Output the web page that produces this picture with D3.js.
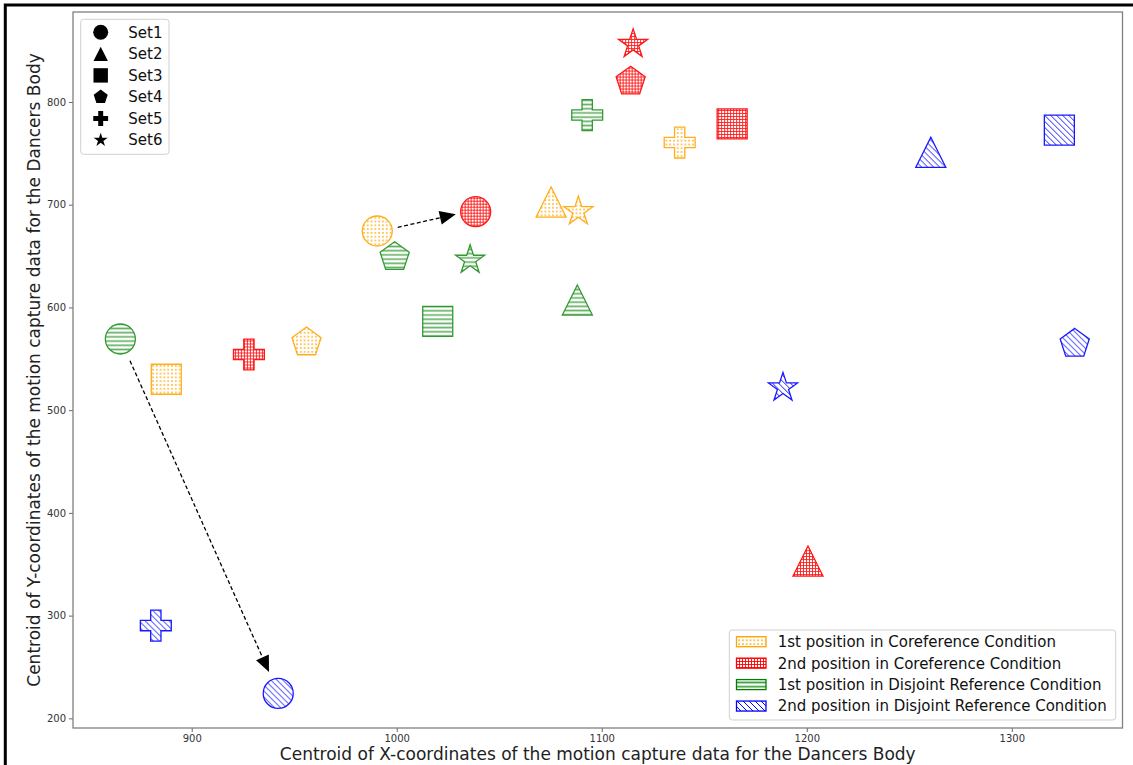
<!DOCTYPE html>
<html>
<head>
<meta charset="utf-8">
<script src="https://cdn.jsdelivr.net/npm/d3@7"></script>
<style>
  html, body { margin: 0; padding: 0; background: #fff; }
  svg { display: block; font-family: "DejaVu Sans", sans-serif; }
</style>
</head>
<body>
<svg id="chart" width="1133" height="765"></svg>
<script>
// ---- data ----
const setNames = ["Set1", "Set2", "Set3", "Set4", "Set5", "Set6"];
const conditions = [
  "1st position in Coreference Condition",
  "2nd position in Coreference Condition",
  "1st position in Disjoint Reference Condition",
  "2nd position in Disjoint Reference Condition"
];
// centroids per set (Set1..Set6) for each condition
const coref1X = [990.5, 1075.3, 887.6, 956.0, 1138.0, 1088.6];
const coref1Y = [674.4, 702.6, 530.1, 566.0, 760.5, 693.5];
const coref2X = [1038.5, 1200.6, 1163.6, 1114.1, 927.9, 1115.3];
const coref2Y = [693.2, 353.1, 778.6, 819.9, 554.2, 856.4];
const disj1X = [865.2, 1088.1, 1020.0, 999.0, 1092.9, 1035.8];
const disj1Y = [569.3, 607.2, 586.5, 649.1, 787.3, 646.2];
const disj2X = [942.2, 1260.5, 1323.2, 1330.7, 882.5, 1188.4];
const disj2Y = [224.3, 751.0, 772.7, 564.7, 290.3, 521.9];
// arrows: [x0, y0, x1, y1]
const arrowCoref = [1000.5, 678.0, 1028.8, 690.7];
const arrowDisj = [869.9, 548.1, 937.7, 245.1];
const xTicks = [900, 1000, 1100, 1200, 1300];
const yTicks = [200, 300, 400, 500, 600, 700, 800];

// ---- layout ----
const W = 1133, H = 765;
const plot = { left: 73, right: 1122.5, top: 12, bottom: 728 };
const svg = d3.select("#chart");

const x = d3.scaleLinear().domain([842.1, 1354.0]).range([plot.left, plot.right]);
const y = d3.scaleLinear().domain([190.6, 887.6]).range([plot.bottom, plot.top]);

const colors = ["#FFA500", "#FF0000", "#008000", "#0000FF"];

// ---- hatch patterns ----
const defs = svg.append("defs");
// dots
const pDots = defs.append("pattern").attr("id", "hatch0").attr("patternUnits", "userSpaceOnUse")
  .attr("width", 3.8).attr("height", 3.8);
pDots.append("circle").attr("cx", 1.9).attr("cy", 1.9).attr("r", 0.85).attr("fill", colors[0]);
// grid
const pGrid = defs.append("pattern").attr("id", "hatch1").attr("patternUnits", "userSpaceOnUse")
  .attr("width", 3).attr("height", 3);
pGrid.append("path").attr("d", "M0,1.5H3M1.5,0V3").attr("stroke", colors[1]).attr("stroke-width", 0.9);
// horizontal lines
const pHor = defs.append("pattern").attr("id", "hatch2").attr("patternUnits", "userSpaceOnUse")
  .attr("width", 4).attr("height", 4.2);
pHor.append("path").attr("d", "M0,2.1H4").attr("stroke", colors[2]).attr("stroke-width", 1.7).attr("opacity", 0.75);
// back-diagonal lines
const pDiag = defs.append("pattern").attr("id", "hatch3").attr("patternUnits", "userSpaceOnUse")
  .attr("width", 6).attr("height", 6);
pDiag.append("path").attr("d", "M0,0L6,6M-3,3L3,9M3,-3L9,3").attr("stroke", colors[3]).attr("stroke-width", 1);

// ---- marker shapes (size = radius squared) ----
function poly(context, pts) {
  context.moveTo(pts[0][0], pts[0][1]);
  for (let i = 1; i < pts.length; i++) context.lineTo(pts[i][0], pts[i][1]);
  context.closePath();
}
const shapeCircle = { draw(c, s) { const r = Math.sqrt(s); c.moveTo(r, 0); c.arc(0, 0, r, 0, 2 * Math.PI); } };
const shapeTriangle = { draw(c, s) { const r = Math.sqrt(s); poly(c, [[0, -r], [r, r], [-r, r]]); } };
const shapeSquare = { draw(c, s) { const r = Math.sqrt(s); poly(c, [[-r, -r], [r, -r], [r, r], [-r, r]]); } };
const shapePentagon = { draw(c, s) {
  const r = Math.sqrt(s) * 1.02;
  poly(c, d3.range(5).map(i => { const a = -Math.PI / 2 + i * 2 * Math.PI / 5; return [r * Math.cos(a), r * Math.sin(a)]; }));
} };
const shapePlus = { draw(c, s) {
  const r = Math.sqrt(s) * 1.03, a = r / 3;
  poly(c, [[-a, -r], [a, -r], [a, -a], [r, -a], [r, a], [a, a], [a, r], [-a, r], [-a, a], [-r, a], [-r, -a], [-a, -a]]);
} };
const shapeStar = { draw(c, s) {
  const R = Math.sqrt(s) * 1.02, ri = R * 0.381966;
  poly(c, d3.range(10).map(i => { const a = -Math.PI / 2 + i * Math.PI / 5; const rr = i % 2 ? ri : R; return [rr * Math.cos(a), rr * Math.sin(a)]; }));
} };
const shapes = [shapeCircle, shapeTriangle, shapeSquare, shapePentagon, shapePlus, shapeStar];

// ---- background & figure frame ----
svg.append("rect").attr("width", W).attr("height", H).attr("fill", "#fff");
svg.append("rect").attr("x", 5.3).attr("y", 5).attr("width", W + 10).attr("height", H + 10)
  .attr("fill", "none").attr("stroke", "#000").attr("stroke-width", 3);

// ---- axes ----
const gx = svg.append("g").attr("transform", `translate(0,${plot.bottom})`)
  .call(d3.axisBottom(x).tickValues(xTicks).tickSize(4).tickPadding(3).tickFormat(d3.format("d")));
const gy = svg.append("g").attr("transform", `translate(${plot.left},0)`)
  .call(d3.axisLeft(y).tickValues(yTicks).tickSize(4).tickPadding(3).tickFormat(d3.format("d")));
[gx, gy].forEach(g => {
  g.select(".domain").remove();
  g.selectAll(".tick line").attr("stroke", "#555").attr("stroke-width", 0.9);
  g.selectAll(".tick text").attr("fill", "#333").style("font-size", "10px").style("font-family", "DejaVu Sans");
});

svg.append("rect").attr("x", plot.left).attr("y", plot.top)
  .attr("width", plot.right - plot.left).attr("height", plot.bottom - plot.top)
  .attr("fill", "none").attr("stroke", "#808080").attr("stroke-width", 1.3);

// axis titles
svg.append("text").attr("x", (plot.left + plot.right) / 2).attr("y", 760)
  .attr("text-anchor", "middle").style("font-size", "17px").attr("fill", "#222")
  .text("Centroid of X-coordinates of the motion capture data for the Dancers Body");
svg.append("text").attr("transform", `translate(40,${(plot.top + plot.bottom) / 2}) rotate(-90)`)
  .attr("text-anchor", "middle").style("font-size", "17px").attr("fill", "#222")
  .text("Centroid of Y-coordinates of the motion capture data for the Dancers Body");

// ---- markers ----
const seriesX = [coref1X, coref2X, disj1X, disj2X];
const seriesY = [coref1Y, coref2Y, disj1Y, disj2Y];
const sizes = [225, 225, 225, 225, 225, 225];
const pts = [];
seriesX.forEach((xs, ci) => xs.forEach((vx, si) => pts.push({ ci, si, vx, vy: seriesY[ci][si] })));

svg.append("g").selectAll("path").data(pts).join("path")
  .attr("transform", d => `translate(${x(d.vx)},${y(d.vy)})`)
  .attr("d", d => d3.symbol().type(shapes[d.si]).size(sizes[d.si])())
  .attr("fill", d => `url(#hatch${d.ci})`)
  .attr("stroke", d => colors[d.ci])
  .attr("stroke-width", 1.3)
  .attr("opacity", d => d.ci === 2 ? 0.8 : 0.9);

// ---- arrows ----
function drawArrow(a) {
  const x0 = x(a[0]), y0 = y(a[1]), x1 = x(a[2]), y1 = y(a[3]);
  const ang = Math.atan2(y1 - y0, x1 - x0);
  const hl = 16, hw = 7;
  const bx = x1 - hl * Math.cos(ang), by = y1 - hl * Math.sin(ang);
  svg.append("line").attr("x1", x0).attr("y1", y0).attr("x2", bx).attr("y2", by)
    .attr("stroke", "#000").attr("stroke-width", 1.3).attr("stroke-dasharray", "4,2.5");
  const nx = -Math.sin(ang), ny = Math.cos(ang);
  svg.append("path")
    .attr("d", `M${x1},${y1}L${bx + nx * hw},${by + ny * hw}L${bx - nx * hw},${by - ny * hw}Z`)
    .attr("fill", "#000");
}
drawArrow(arrowCoref);
drawArrow(arrowDisj);

// ---- legend: sets (shapes) ----
const leg1 = svg.append("g");
leg1.append("rect").attr("x", 80.7).attr("y", 19.3).attr("width", 88.3).attr("height", 135)
  .attr("rx", 3).attr("fill", "#fff").attr("fill-opacity", 0.8).attr("stroke", "#d0d0d0").attr("stroke-width", 1);
setNames.forEach((n, i) => {
  const cy = 32.3 + i * 21.55;
  leg1.append("path").attr("transform", `translate(100.7,${cy})`)
    .attr("d", d3.symbol().type(shapes[i]).size(i === 0 ? 56 : 52)()).attr("fill", "#000");
  leg1.append("text").attr("x", 128.3).attr("y", cy + 5.4).style("font-size", "15px").attr("fill", "#111").text(n);
});

// ---- legend: conditions (hatches) ----
const leg2 = svg.append("g");
leg2.append("rect").attr("x", 729.3).attr("y", 630).attr("width", 386.4).attr("height", 90)
  .attr("rx", 3).attr("fill", "#fff").attr("fill-opacity", 0.8).attr("stroke", "#d0d0d0").attr("stroke-width", 1);
conditions.forEach((n, i) => {
  const cy = 641.7 + i * 21.45;
  leg2.append("rect").attr("x", 736.5).attr("y", cy - 5).attr("width", 29.5).attr("height", 10)
    .attr("fill", `url(#hatch${i})`).attr("stroke", colors[i]).attr("stroke-width", 1.3);
  leg2.append("text").attr("x", 777.7).attr("y", cy + 5.4).style("font-size", "15px").attr("fill", "#111").text(n);
});
</script>
</body>
</html>
